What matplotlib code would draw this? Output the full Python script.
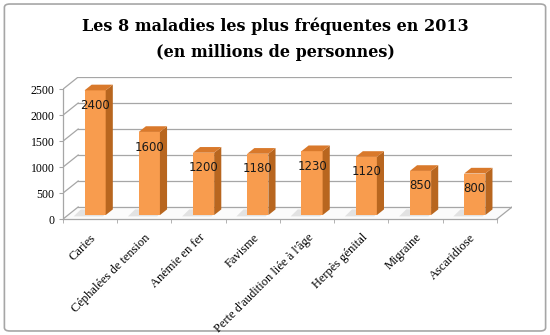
import numpy as np
import matplotlib
matplotlib.use('Agg')
import matplotlib.pyplot as plt
from matplotlib.patches import Polygon, FancyBboxPatch

# donnees
maladies = ['Caries', 'Céphalées de tension', 'Anémie en fer', 'Favisme',
            "Perte d'audition liée à l'âge", 'Herpès génital', 'Migraine', 'Ascaridiose']
valeurs = [2400, 1600, 1200, 1180, 1230, 1120, 850, 800]
graduations = [0, 500, 1000, 1500, 2000, 2500]

# profondeur de la fausse 3D (en unites des axes)
ddx, ddy = 0.28, 233
f0, f1 = 0.33, 0.80          # avant / arriere des barres dans la profondeur
larg = 0.39

fig = plt.figure(figsize=(5.5, 3.35), dpi=100)
fig.patches.append(FancyBboxPatch((0.008, 0.012), 0.984, 0.976,
                                  boxstyle='round,pad=0,rounding_size=0.01',
                                  transform=fig.transFigure, fc='white',
                                  ec='#A6A6A6', lw=1.2, zorder=-5))

fig.text(0.5, 0.922, 'Les 8 maladies les plus fréquentes en 2013',
         ha='center', va='center', fontsize=11.5, fontweight='bold', family='DejaVu Serif')
fig.text(0.5, 0.842, '(en millions de personnes)',
         ha='center', va='center', fontsize=11.5, fontweight='bold', family='DejaVu Serif')

ax = fig.add_axes([0.1145, 0.346, 0.8165, 0.424])
n = len(maladies)
ax.set_xlim(0, n + ddx)
ax.set_ylim(0, graduations[-1] + ddy)

grille = '#A6A6A6'
# mur du fond et cote gauche
for g in graduations:
    ax.plot([ddx, n + ddx], [g + ddy, g + ddy], color=grille, lw=0.9, zorder=1)
    ax.plot([0, ddx], [g, g + ddy], color=grille, lw=0.9, zorder=1)
# sol
ax.add_patch(Polygon([(0, 0), (n, 0), (n + ddx, ddy), (ddx, ddy)],
                     closed=True, fc='#FBFBFB', ec='none', zorder=0.5))
ax.plot([n, n + ddx], [0, ddy], color=grille, lw=0.9, zorder=1)

x = np.arange(n) + 0.5
for xi, v in zip(x, valeurs):
    xl = xi - larg / 2 + f0 * ddx
    xr = xl + larg
    b = f0 * ddy
    t = v + b
    ex, ey = (f1 - f0) * ddx, (f1 - f0) * ddy
    # ombre au sol
    ax.add_patch(Polygon([(xl - 0.2, b - 25), (xr - 0.05, b - 25), (xr + ex - 0.05, b + ey),
                          (xl - 0.2 + ex, b + ey)],
                         closed=True, fc='#E2E2E2', ec='none', zorder=1.5))
    ax.bar(xr - larg / 2, v, width=larg, bottom=b, color='#F89C4E',
           edgecolor='none', zorder=3)
    ax.add_patch(Polygon([(xr, b), (xr + ex, b + ey), (xr + ex, t + ey), (xr, t)],
                         closed=True, fc='#B8661F', ec='none', zorder=3))
    ax.add_patch(Polygon([(xl, t), (xr, t), (xr + ex, t + ey), (xl + ex, t + ey)],
                         closed=True, fc='#D9792B', ec='none', zorder=3))
    ax.text(xr - larg / 2, t - 290, str(v), ha='center', va='center',
            fontsize=8.5, color='#1A1A1A', family='DejaVu Sans', zorder=4)

# axes avant
for s in ['top', 'right']:
    ax.spines[s].set_visible(False)
ax.spines['left'].set_bounds(0, graduations[-1])
ax.spines['bottom'].set_bounds(0, n)
for s in ['left', 'bottom']:
    ax.spines[s].set_color(grille)
    ax.spines[s].set_linewidth(0.9)
ax.set_yticks(graduations)
ax.set_yticklabels([str(g) for g in graduations], family='Liberation Serif', fontsize=8.5)
ax.set_xticks(x)
ax.set_xticklabels(maladies, rotation=45, ha='right', rotation_mode='anchor',
                   family='Liberation Serif', fontsize=9)
ax.set_xticks(np.arange(n + 1), minor=True)
ax.tick_params(axis='x', which='major', length=0, pad=9)
ax.tick_params(axis='x', which='minor', length=3, color=grille)
ax.tick_params(axis='y', length=3, color=grille, pad=3)

fig.savefig('out.png', dpi=100)
